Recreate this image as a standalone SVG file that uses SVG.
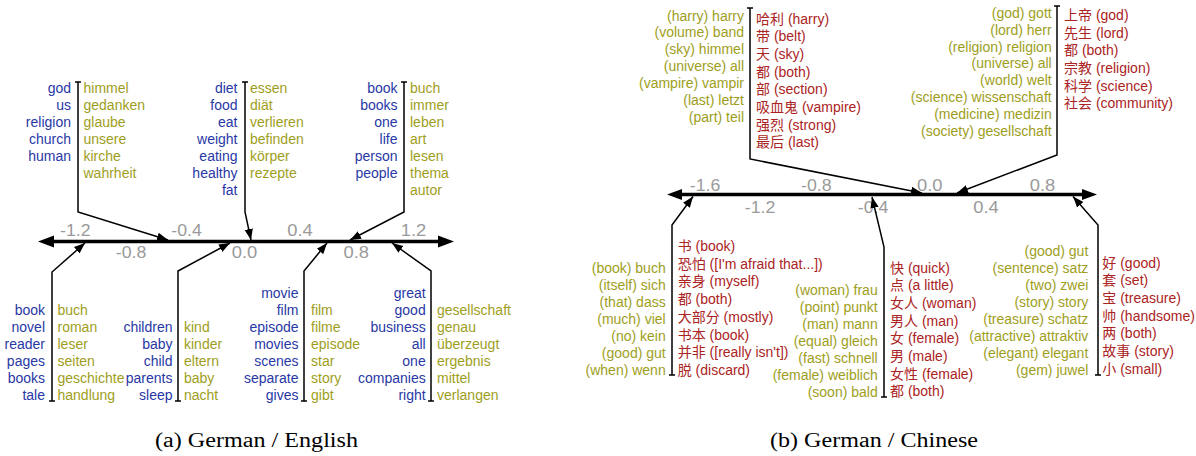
<svg xmlns="http://www.w3.org/2000/svg" width="1196" height="456" viewBox="0 0 1196 456">
<style>
text{font-family:"Liberation Sans","Noto Sans CJK SC",Arial,sans-serif;font-size:14px}
.b{fill:#2838a6}
.o{fill:#9e9e1c}
.r{fill:#ab2323}
.e{text-anchor:end}
.t{fill:#9a9a9a;font-size:16px;text-anchor:middle}
.cap{font-family:"Liberation Serif","Times New Roman",serif;font-size:20px;fill:#000}
.ax{stroke:#000;stroke-width:3.5;fill:none}
.cn{stroke:#000;stroke-width:1.5;fill:none;marker-end:url(#ah)}
.tb{stroke:#000;stroke-width:1.5;fill:none}
</style>
<defs>
<marker id="ah" markerUnits="userSpaceOnUse" markerWidth="12" markerHeight="10" viewBox="0 0 12 10" refX="11" refY="5" orient="auto">
<path d="M0,0.8 L11,5 L0,9.2 Z" fill="#000"/>
</marker>
</defs>

<!-- Panel (a) axis -->
<g id="axis-a">
<line class="ax" x1="50" y1="241.5" x2="442" y2="241.5"/>
<polygon points="38,241.5 54,235.5 54,247.5" fill="#000"/>
<polygon points="454,241.5 438,235.5 438,247.5" fill="#000"/>
<text class="t" x="75.3" y="236" textLength="30.5" lengthAdjust="spacingAndGlyphs">-1.2</text>
<text class="t" x="186.5" y="236" textLength="30.5" lengthAdjust="spacingAndGlyphs">-0.4</text>
<text class="t" x="300" y="236" textLength="25.5" lengthAdjust="spacingAndGlyphs">0.4</text>
<text class="t" x="413.5" y="236" textLength="25.5" lengthAdjust="spacingAndGlyphs">1.2</text>
<text class="t" x="131" y="257.5" textLength="30.5" lengthAdjust="spacingAndGlyphs">-0.8</text>
<text class="t" x="244.5" y="257.5" textLength="25.5" lengthAdjust="spacingAndGlyphs">0.0</text>
<text class="t" x="356.3" y="257.5" textLength="25.5" lengthAdjust="spacingAndGlyphs">0.8</text>
</g>

<!-- Panel (b) axis -->
<g id="axis-b">
<line class="ax" x1="680" y1="194.5" x2="1084" y2="194.5"/>
<polygon points="667,194.5 682,189 682,200" fill="#000"/>
<polygon points="1097,194.5 1082,189 1082,200" fill="#000"/>
<text class="t" x="705" y="190.5" textLength="30.5" lengthAdjust="spacingAndGlyphs">-1.6</text>
<text class="t" x="816.3" y="190.5" textLength="30.5" lengthAdjust="spacingAndGlyphs">-0.8</text>
<text class="t" x="929.7" y="190.5" textLength="25.5" lengthAdjust="spacingAndGlyphs">0.0</text>
<text class="t" x="1042.5" y="190.5" textLength="25.5" lengthAdjust="spacingAndGlyphs">0.8</text>
<text class="t" x="760" y="212.5" textLength="30.5" lengthAdjust="spacingAndGlyphs">-1.2</text>
<text class="t" x="873" y="212.5" textLength="30.5" lengthAdjust="spacingAndGlyphs">-0.4</text>
<text class="t" x="986" y="212.5" textLength="25.5" lengthAdjust="spacingAndGlyphs">0.4</text>
</g>

<!-- Connectors -->
<g id="connectors">
<path class="cn" d="M78,82 V212 L168,240"/>
<path class="tb" d="M75,82 H81"/>
<path class="cn" d="M245,82 V212 L251,240"/>
<path class="tb" d="M242,82 H248"/>
<path class="cn" d="M404,82 V212 L350,240"/>
<path class="tb" d="M401,82 H407"/>
<path class="cn" d="M52,401 V272 L85,243"/>
<path class="tb" d="M49,401 H55"/>
<path class="cn" d="M178,401 V271 L230,243"/>
<path class="tb" d="M175,401 H181"/>
<path class="cn" d="M304,401 V271 L327,243"/>
<path class="tb" d="M301,401 H307"/>
<path class="cn" d="M431,401 V271 L392,243"/>
<path class="tb" d="M428,401 H434"/>

<path class="cn" d="M750,8 V159 L922,193"/>
<path class="tb" d="M747,8 H753"/>
<path class="cn" d="M1057,6 V155 L957,193"/>
<path class="tb" d="M1054,6 H1060"/>
<path class="cn" d="M672,375 V225 L693,196.5"/>
<path class="tb" d="M669,375 H675"/>
<path class="cn" d="M884,397 V247 L872,197"/>
<path class="tb" d="M881,397 H887"/>
<path class="cn" d="M1098,375 V225 L1073,196.5"/>
<path class="tb" d="M1095,375 H1101"/>
</g>

<!-- Panel (a) nodes -->
<g id="a-top-1">
<text class="b e" x="71" y="93">god</text>
<text class="b e" x="71" y="110">us</text>
<text class="b e" x="71" y="127">religion</text>
<text class="b e" x="71" y="144">church</text>
<text class="b e" x="71" y="161">human</text>
<text class="o" x="83.5" y="93">himmel</text>
<text class="o" x="83.5" y="110">gedanken</text>
<text class="o" x="83.5" y="127">glaube</text>
<text class="o" x="83.5" y="144">unsere</text>
<text class="o" x="83.5" y="161">kirche</text>
<text class="o" x="83.5" y="178">wahrheit</text>
</g>
<g id="a-top-2">
<text class="b e" x="237.5" y="93">diet</text>
<text class="b e" x="237.5" y="110">food</text>
<text class="b e" x="237.5" y="127">eat</text>
<text class="b e" x="237.5" y="144">weight</text>
<text class="b e" x="237.5" y="161">eating</text>
<text class="b e" x="237.5" y="178">healthy</text>
<text class="b e" x="237.5" y="195">fat</text>
<text class="o" x="250" y="93">essen</text>
<text class="o" x="250" y="110">diät</text>
<text class="o" x="250" y="127">verlieren</text>
<text class="o" x="250" y="144">befinden</text>
<text class="o" x="250" y="161">körper</text>
<text class="o" x="250" y="178">rezepte</text>
</g>
<g id="a-top-3">
<text class="b e" x="397.5" y="93">book</text>
<text class="b e" x="397.5" y="110">books</text>
<text class="b e" x="397.5" y="127">one</text>
<text class="b e" x="397.5" y="144">life</text>
<text class="b e" x="397.5" y="161">person</text>
<text class="b e" x="397.5" y="178">people</text>
<text class="o" x="410" y="93">buch</text>
<text class="o" x="410" y="110">immer</text>
<text class="o" x="410" y="127">leben</text>
<text class="o" x="410" y="144">art</text>
<text class="o" x="410" y="161">lesen</text>
<text class="o" x="410" y="178">thema</text>
<text class="o" x="410" y="195">autor</text>
</g>
<g id="a-bot-1">
<text class="b e" x="45" y="315">book</text>
<text class="b e" x="45" y="332">novel</text>
<text class="b e" x="45" y="349">reader</text>
<text class="b e" x="45" y="366">pages</text>
<text class="b e" x="45" y="383">books</text>
<text class="b e" x="45" y="400">tale</text>
<text class="o" x="57.5" y="315">buch</text>
<text class="o" x="57.5" y="332">roman</text>
<text class="o" x="57.5" y="349">leser</text>
<text class="o" x="57.5" y="366">seiten</text>
<text class="o" x="57.5" y="383">geschichte</text>
<text class="o" x="57.5" y="400">handlung</text>
</g>
<g id="a-bot-2">
<text class="b e" x="172.5" y="332">children</text>
<text class="b e" x="172.5" y="349">baby</text>
<text class="b e" x="172.5" y="366">child</text>
<text class="b e" x="172.5" y="383">parents</text>
<text class="b e" x="172.5" y="400">sleep</text>
<text class="o" x="184" y="332">kind</text>
<text class="o" x="184" y="349">kinder</text>
<text class="o" x="184" y="366">eltern</text>
<text class="o" x="184" y="383">baby</text>
<text class="o" x="184" y="400">nacht</text>
</g>
<g id="a-bot-3">
<text class="b e" x="298.5" y="298">movie</text>
<text class="b e" x="298.5" y="315">film</text>
<text class="b e" x="298.5" y="332">episode</text>
<text class="b e" x="298.5" y="349">movies</text>
<text class="b e" x="298.5" y="366">scenes</text>
<text class="b e" x="298.5" y="383">separate</text>
<text class="b e" x="298.5" y="400">gives</text>
<text class="o" x="311" y="315">film</text>
<text class="o" x="311" y="332">filme</text>
<text class="o" x="311" y="349">episode</text>
<text class="o" x="311" y="366">star</text>
<text class="o" x="311" y="383">story</text>
<text class="o" x="311" y="400">gibt</text>
</g>
<g id="a-bot-4">
<text class="b e" x="425.7" y="298">great</text>
<text class="b e" x="425.7" y="315">good</text>
<text class="b e" x="425.7" y="332">business</text>
<text class="b e" x="425.7" y="349">all</text>
<text class="b e" x="425.7" y="366">one</text>
<text class="b e" x="425.7" y="383">companies</text>
<text class="b e" x="425.7" y="400">right</text>
<text class="o" x="437" y="315">gesellschaft</text>
<text class="o" x="437" y="332">genau</text>
<text class="o" x="437" y="349">überzeugt</text>
<text class="o" x="437" y="366">ergebnis</text>
<text class="o" x="437" y="383">mittel</text>
<text class="o" x="437" y="400">verlangen</text>
</g>

<!-- Panel (b) nodes -->
<g id="b-top-1">
<text class="o e" x="744" y="20.5">(harry) harry</text>
<text class="o e" x="744" y="37.4">(volume) band</text>
<text class="o e" x="744" y="54.3">(sky) himmel</text>
<text class="o e" x="744" y="71.2">(universe) all</text>
<text class="o e" x="744" y="88.1">(vampire) vampir</text>
<text class="o e" x="744" y="105">(last) letzt</text>
<text class="o e" x="744" y="121.9">(part) teil</text>
<text class="r" x="756" y="23.5">哈利 (harry)</text>
<text class="r" x="756" y="41.2">带 (belt)</text>
<text class="r" x="756" y="58.9">天 (sky)</text>
<text class="r" x="756" y="76.6">都 (both)</text>
<text class="r" x="756" y="94.3">部 (section)</text>
<text class="r" x="756" y="112">吸血鬼 (vampire)</text>
<text class="r" x="756" y="129.7">强烈 (strong)</text>
<text class="r" x="756" y="147.4">最后 (last)</text>
</g>
<g id="b-top-2">
<text class="o e" x="1051.7" y="18">(god) gott</text>
<text class="o e" x="1051.7" y="34.8">(lord) herr</text>
<text class="o e" x="1051.7" y="51.6">(religion) religion</text>
<text class="o e" x="1051.7" y="68.4">(universe) all</text>
<text class="o e" x="1051.7" y="85.2">(world) welt</text>
<text class="o e" x="1051.7" y="102">(science) wissenschaft</text>
<text class="o e" x="1051.7" y="118.8">(medicine) medizin</text>
<text class="o e" x="1051.7" y="135.6">(society) gesellschaft</text>
<text class="r" x="1064" y="19.8">上帝 (god)</text>
<text class="r" x="1064" y="37.5">先生 (lord)</text>
<text class="r" x="1064" y="55.2">都 (both)</text>
<text class="r" x="1064" y="72.9">宗教 (religion)</text>
<text class="r" x="1064" y="90.6">科学 (science)</text>
<text class="r" x="1064" y="108.3">社会 (community)</text>
</g>
<g id="b-bot-1">
<text class="o e" x="665.7" y="273">(book) buch</text>
<text class="o e" x="665.7" y="290">(itself) sich</text>
<text class="o e" x="665.7" y="307">(that) dass</text>
<text class="o e" x="665.7" y="324">(much) viel</text>
<text class="o e" x="665.7" y="341">(no) kein</text>
<text class="o e" x="665.7" y="358">(good) gut</text>
<text class="o e" x="665.7" y="375">(when) wenn</text>
<text class="r" x="677.7" y="251">书 (book)</text>
<text class="r" x="677.7" y="268.7">恐怕 ([I'm afraid that...])</text>
<text class="r" x="677.7" y="286.4">亲身 (myself)</text>
<text class="r" x="677.7" y="304.1">都 (both)</text>
<text class="r" x="677.7" y="321.8">大部分 (mostly)</text>
<text class="r" x="677.7" y="339.5">书本 (book)</text>
<text class="r" x="677.7" y="357.2">并非 ([really isn't])</text>
<text class="r" x="677.7" y="374.9">脱 (discard)</text>
</g>
<g id="b-bot-2">
<text class="o e" x="877.7" y="294.5">(woman) frau</text>
<text class="o e" x="877.7" y="311.5">(point) punkt</text>
<text class="o e" x="877.7" y="328.5">(man) mann</text>
<text class="o e" x="877.7" y="345.5">(equal) gleich</text>
<text class="o e" x="877.7" y="362.5">(fast) schnell</text>
<text class="o e" x="877.7" y="379.5">(female) weiblich</text>
<text class="o e" x="877.7" y="396.5">(soon) bald</text>
<text class="r" x="890" y="272.5">快 (quick)</text>
<text class="r" x="890" y="290.2">点 (a little)</text>
<text class="r" x="890" y="307.9">女人 (woman)</text>
<text class="r" x="890" y="325.6">男人 (man)</text>
<text class="r" x="890" y="343.3">女 (female)</text>
<text class="r" x="890" y="361">男 (male)</text>
<text class="r" x="890" y="378.7">女性 (female)</text>
<text class="r" x="890" y="396.4">都 (both)</text>
</g>
<g id="b-bot-3">
<text class="o e" x="1088.3" y="255.5">(good) gut</text>
<text class="o e" x="1088.3" y="272.5">(sentence) satz</text>
<text class="o e" x="1088.3" y="289.5">(two) zwei</text>
<text class="o e" x="1088.3" y="306.5">(story) story</text>
<text class="o e" x="1088.3" y="323.5">(treasure) schatz</text>
<text class="o e" x="1088.3" y="340.5">(attractive) attraktiv</text>
<text class="o e" x="1088.3" y="357.5">(elegant) elegant</text>
<text class="o e" x="1088.3" y="374.5">(gem) juwel</text>
<text class="r" x="1102.3" y="267.5">好 (good)</text>
<text class="r" x="1102.3" y="285.2">套 (set)</text>
<text class="r" x="1102.3" y="302.9">宝 (treasure)</text>
<text class="r" x="1102.3" y="320.6">帅 (handsome)</text>
<text class="r" x="1102.3" y="338.3">两 (both)</text>
<text class="r" x="1102.3" y="356">故事 (story)</text>
<text class="r" x="1102.3" y="373.7">小 (small)</text>
</g>

<!-- Captions -->
<g id="captions">
<text class="cap" x="155" y="447" textLength="203" lengthAdjust="spacingAndGlyphs">(a)  German / English</text>
<text class="cap" x="770" y="447" textLength="208" lengthAdjust="spacingAndGlyphs">(b)  German / Chinese</text>
</g>
</svg>
